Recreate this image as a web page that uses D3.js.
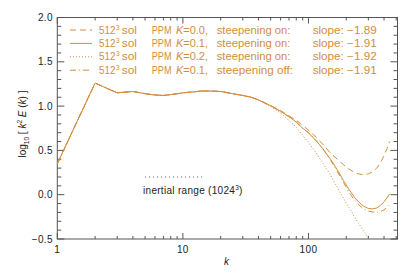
<!DOCTYPE html>
<html><head><meta charset="utf-8">
<script src="https://cdn.jsdelivr.net/npm/d3@7"></script>
<style>
html,body{margin:0;padding:0;background:#fff;}
svg text{font-family:"Liberation Sans",Arial,sans-serif;}
</style>
</head><body>
<svg id="c" width="415" height="276"></svg>
<script>
// ---- data ----
const kVals = [1,2,3,4,5,6,7,8,9,10,12,14,16,18,20,25,30,35,40,45,50,60,70,80,90,100,115,130,150,170,190,210,230,250,275,300,325,350,375,400,425,443];
const common = [0.35,1.26,1.15,1.165,1.14,1.125,1.12,1.13,1.14,1.15,1.16,1.17,1.17,1.168,1.165,1.14,1.12,1.10,1.07];
const seriesK00 = common.concat([1.035,1.005,0.95,0.89,0.84,0.78,0.73,0.65,0.57,0.47,0.40,0.34,0.29,0.255,0.235,0.225,0.235,0.26,0.30,0.36,0.44,0.53,0.60]);
const seriesK01 = common.concat([1.035,1.005,0.94,0.88,0.82,0.75,0.70,0.61,0.52,0.40,0.28,0.16,0.06,-0.02,-0.08,-0.13,-0.155,-0.16,-0.15,-0.12,-0.08,-0.03,0.01]);
const seriesK02 = common.concat([1.03,0.995,0.92,0.84,0.76,0.67,0.59,0.47,0.36,0.22,0.08,-0.04,-0.14,-0.24,-0.32,-0.41,-0.49,-0.55,-0.60,-0.62,-0.61,-0.56,-0.50]);
const seriesK01off = common.concat([1.035,1.005,0.94,0.88,0.82,0.75,0.70,0.61,0.52,0.39,0.26,0.14,0.03,-0.05,-0.11,-0.16,-0.185,-0.195,-0.20,-0.19,-0.17,-0.14,-0.11]);
const legendParams = ["0.0","0.1","0.2","0.1"];
const legendSteep = ["on:","on:","on:","off:"];
const legendSlopes = ["\u22121.89","\u22121.91","\u22121.92","\u22121.91"];
const yTicks = [-0.5,0.0,0.5,1.0,1.5,2.0];
const xTicks = [1,10,100];
const inertialK = [5,15];
const inertialLevel = 0.2;

const series = [
  {v:seriesK00, dash:"6,4"},
  {v:seriesK01, dash:null},
  {v:seriesK02, dash:"1,2"},
  {v:seriesK01off, dash:"6,3,1,3"}
];

// ---- layout ----
const L=57.3, R=397.5, T=17.5, B=239;
const col="#d28d3e", axc="#555", txc="#222";
const svg=d3.select("#c");
const x=d3.scaleLog().domain([1,512]).range([L,R]);
const y=d3.scaleLinear().domain([-0.5,2.0]).range([B,T]);

svg.append("clipPath").attr("id","clip").append("rect").attr("x",L).attr("y",T).attr("width",R-L).attr("height",B-T);

// axes box
const g=svg.append("g").attr("fill","none").attr("stroke",axc).attr("stroke-width",1);
g.append("rect").attr("x",L).attr("y",T).attr("width",R-L).attr("height",B-T);

// x ticks
const xMinor=[];
for(let d=1;d<=100;d*=10) for(let m=1;m<=9;m++){const v=d*m; if(v<=512) xMinor.push(v);}
xMinor.forEach(v=>{
  const major = xTicks.includes(v);
  const len = major?6:3;
  g.append("line").attr("x1",x(v)).attr("x2",x(v)).attr("y1",B).attr("y2",B-len);
  g.append("line").attr("x1",x(v)).attr("x2",x(v)).attr("y1",T).attr("y2",T+len);
});
// y ticks
d3.range(-5,21).forEach(i=>{
  const v=i/10; const major = (i%5===0);
  const len = major?7:4;
  g.append("line").attr("x1",L).attr("x2",L+len).attr("y1",y(v)).attr("y2",y(v));
  g.append("line").attr("x1",R).attr("x2",R-len).attr("y1",y(v)).attr("y2",y(v));
});

// tick labels
svg.selectAll(".yl").data(yTicks).enter().append("text")
  .attr("x",53).attr("y",d=>y(d)+3.5).attr("text-anchor","end")
  .attr("font-size",10).attr("fill",txc).attr("letter-spacing",0.4)
  .text(d=>(d<0?"\u2212":"")+Math.abs(d).toFixed(1));
svg.selectAll(".xl").data(xTicks).enter().append("text")
  .attr("x",d=>x(d)).attr("y",253).attr("text-anchor","middle")
  .attr("font-size",10).attr("fill",txc).attr("letter-spacing",0.4).text(d=>d);

// axis titles
svg.append("text").attr("x",226.5).attr("y",265).attr("font-size",10).attr("font-style","italic").attr("fill",txc).attr("text-anchor","middle").text("k");
const yt=svg.append("text").attr("transform","translate(26,124) rotate(-90)").attr("text-anchor","middle").attr("font-size",10).attr("fill",txc);
yt.append("tspan").text("log");
yt.append("tspan").attr("font-size",6.5).attr("dy",2.5).text("10");
yt.append("tspan").attr("dy",-2.5).text(" [ ");
yt.append("tspan").attr("font-style","italic").text("k");
yt.append("tspan").attr("font-size",6.5).attr("dy",-4).text("2");
yt.append("tspan").attr("dy",4).text(" ");
yt.append("tspan").attr("font-style","italic").text("E");
yt.append("tspan").text(" (");
yt.append("tspan").attr("font-style","italic").text("k");
yt.append("tspan").text(") ]");

// data lines
const line=d3.line().x((d,i)=>x(kVals[i])).y(d=>y(d));
const pg=svg.append("g").attr("clip-path","url(#clip)");
series.forEach(s=>{
  pg.append("path").datum(s.v).attr("d",line).attr("fill","none")
    .attr("stroke",col).attr("stroke-width",1)
    .attr("stroke-dasharray",s.dash);
});

// inertial range line
svg.append("line").attr("x1",x(inertialK[0])).attr("x2",x(inertialK[1]))
  .attr("y1",y(inertialLevel)).attr("y2",y(inertialLevel))
  .attr("stroke","#333").attr("stroke-width",0.8).attr("stroke-dasharray","1,3");
const it=svg.append("text").attr("x",143).attr("y",194).attr("font-size",10).attr("fill",txc).attr("letter-spacing",0.3);
it.append("tspan").text("inertial range (1024");
it.append("tspan").attr("font-size",6.5).attr("dy",-4).text("3");
it.append("tspan").attr("dy",4).text(")");

// legend
function piece(gr,x0,x1,by,txt,italicFirst){
  const t=gr.append("text").attr("x",x0).attr("y",by)
    .attr("textLength",x1-x0).attr("lengthAdjust","spacingAndGlyphs");
  if(italicFirst){
    t.append("tspan").attr("font-style","italic").text(txt[0]);
    t.append("tspan").text(txt.slice(1));
  } else t.text(txt);
  return t;
}
series.forEach((s,i)=>{
  const yy = 30 + i*13.4;
  svg.append("line").attr("x1",70).attr("x2",92).attr("y1",yy).attr("y2",yy)
    .attr("stroke",col).attr("stroke-width",1).attr("stroke-dasharray",s.dash);
  const tg=svg.append("g").attr("fill",col).attr("font-size",10);
  const by=yy+3.6;
  piece(tg,99,115.5,by,"512");
  tg.append("text").attr("x",116).attr("y",by-4).attr("font-size",6.5).text("3");
  piece(tg,121.7,137,by,"sol");
  piece(tg,151.7,171.5,by,"PPM");
  piece(tg,176,208,by,"K="+legendParams[i]+",",true);
  piece(tg,216.7,legendSteep[i]==="off:"?293:290.5,by,"steepening "+legendSteep[i]);
  piece(tg,312.7,376.7,by,"slope: "+legendSlopes[i]);
});
</script>
</body></html>
